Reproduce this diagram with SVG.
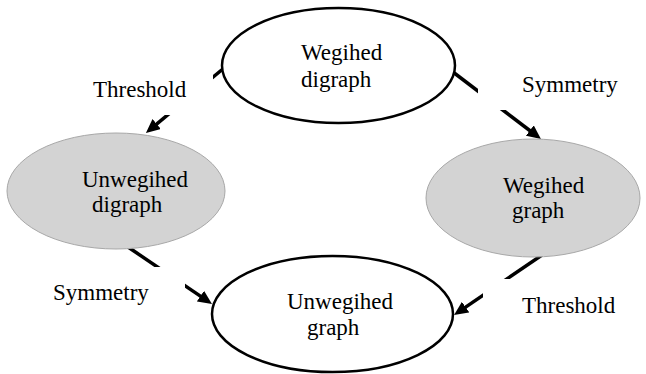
<svg xmlns="http://www.w3.org/2000/svg" width="646" height="374" viewBox="0 0 646 374">
<style>
text{font-family:"Liberation Serif","Times New Roman",serif;font-size:23px;fill:#000}
.w{fill:#fff;stroke:#000;stroke-width:2.5}
.g{fill:#d3d3d3;stroke:#a8a8a8;stroke-width:1}
.c{stroke:#000;stroke-width:3.5;fill:none;marker-end:url(#ah)}
.box{fill:#fff}
</style>
<defs>
<marker id="ah" markerUnits="userSpaceOnUse" markerWidth="14" markerHeight="13" refX="4" refY="6.5" orient="auto">
<path d="M0,0 L14,6.5 L0,13 z" fill="#000"/>
</marker>
</defs>
<rect width="646" height="374" fill="#fff"/>
<g id="connectors">
<path class="c" d="M224,68 L153.6,126.6"/>
<path class="c" d="M449,69 L533,133"/>
<path class="c" d="M128,247 L203.7,298.4"/>
<path class="c" d="M542,255 L462.3,309.4"/>
</g>
<g id="label-threshold-1"><rect class="box" x="80" y="72" width="133" height="43"/><text x="93" y="97">Threshold</text></g>
<g id="label-symmetry-1"><rect class="box" x="478" y="62" width="168" height="48"/><text x="522" y="92">Symmetry</text></g>
<g id="label-symmetry-2"><rect class="box" x="10" y="267" width="175" height="53"/><text x="53" y="300">Symmetry</text></g>
<g id="label-threshold-2"><rect class="box" x="483" y="279" width="163" height="50"/><text x="522" y="313">Threshold</text></g>
<g id="node-weighted-digraph"><ellipse class="w" cx="338.5" cy="65.5" rx="116.5" ry="57.5"/><text x="301" y="60">Wegihed</text><text x="301" y="87">digraph</text></g>
<g id="node-unweighted-digraph"><ellipse class="g" cx="116" cy="191" rx="109" ry="58"/><text x="82" y="187">Unwegihed</text><text x="92" y="212">digraph</text></g>
<g id="node-weighted-graph"><ellipse class="g" cx="533" cy="198" rx="107" ry="59"/><text x="503" y="193">Wegihed</text><text x="512" y="218">graph</text></g>
<g id="node-unweighted-graph"><ellipse class="w" cx="332.5" cy="314" rx="120.5" ry="58"/><text x="287" y="309">Unwegihed</text><text x="307" y="335">graph</text></g>
</svg>
